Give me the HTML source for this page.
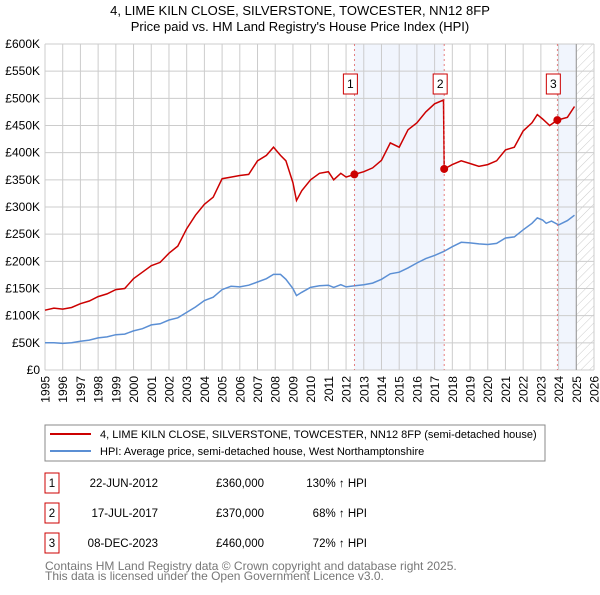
<!DOCTYPE html>
<html><head><meta charset="utf-8"><style>
body{margin:0;background:#fff}
svg{font-family:"Liberation Sans","DejaVu Sans",sans-serif}
</style></head><body>
<svg id="c" width="600" height="590" viewBox="0 0 600 590">
<defs><pattern id="hatch" patternUnits="userSpaceOnUse" width="6" height="6" patternTransform="rotate(45)"><line x1="0" y1="0" x2="0" y2="6" stroke="#ccc" stroke-width="1"/></pattern></defs>
<text x="300" y="15" text-anchor="middle" font-size="13">4, LIME KILN CLOSE, SILVERSTONE, TOWCESTER, NN12 8FP</text>
<text x="300" y="31" text-anchor="middle" font-size="13">Price paid vs. HM Land Registry's House Price Index (HPI)</text>
<g id="bg"></g><g id="grid"></g><g id="series"></g><g id="marks"></g>
<rect x="45" y="425" width="500" height="36" fill="#fff" stroke="#888"/>
<line x1="50" y1="434" x2="91" y2="434" stroke="#cc0000" stroke-width="2"/>
<text x="100" y="438" font-size="11">4, LIME KILN CLOSE, SILVERSTONE, TOWCESTER, NN12 8FP (semi-detached house)</text>
<line x1="50" y1="451" x2="91" y2="451" stroke="#5b8fd4" stroke-width="2"/>
<text x="100" y="455" font-size="11">HPI: Average price, semi-detached house, West Northamptonshire</text>
<g id="table" font-size="11.5"></g>
<text x="45" y="570" font-size="12" fill="#777">Contains HM Land Registry data © Crown copyright and database right 2025.</text>
<text x="45" y="580" font-size="12" fill="#777">This data is licensed under the Open Government Licence v3.0.</text>
</svg>
<script>
const yearTicks=[1995,1996,1997,1998,1999,2000,2001,2002,2003,2004,2005,2006,2007,2008,2009,2010,2011,2012,2013,2014,2015,2016,2017,2018,2019,2020,2021,2022,2023,2024,2025,2026];
const valueTicks=[0,50,100,150,200,250,300,350,400,450,500,550,600];
const valueLabels=["£0","£50K","£100K","£150K","£200K","£250K","£300K","£350K","£400K","£450K","£500K","£550K","£600K"];
const hpiYears=[1995,1995.5,1996,1996.5,1997,1997.5,1998,1998.5,1999,1999.5,2000,2000.5,2001,2001.5,2002,2002.5,2003,2003.5,2004,2004.5,2005,2005.5,2006,2006.5,2007,2007.5,2007.9,2008.3,2008.6,2009,2009.2,2009.5,2010,2010.5,2011,2011.3,2011.7,2012,2012.5,2013,2013.5,2014,2014.5,2015,2015.5,2016,2016.5,2017,2017.5,2018,2018.5,2019,2019.5,2020,2020.5,2021,2021.5,2022,2022.5,2022.8,2023.1,2023.3,2023.6,2024,2024.5,2024.9];
const hpiValues=[50,50,49,50,53,55,59,61,65,66,72,76,83,85,92,96,106,116,128,134,148,154,153,156,162,168,176,176,167,150,137,143,152,155,156,152,157,153,155,157,160,167,177,180,188,197,205,211,218,227,235,234,232,231,233,243,245,258,270,280,276,270,274,267,275,285];
const salesYears=[1995,1995.5,1996,1996.5,1997,1997.5,1998,1998.5,1999,1999.5,2000,2000.5,2001,2001.5,2002,2002.5,2003,2003.5,2004,2004.5,2005,2005.5,2006,2006.5,2007,2007.5,2007.9,2008.3,2008.6,2009,2009.2,2009.5,2010,2010.5,2011,2011.3,2011.7,2012,2012.47,2013,2013.5,2014,2014.5,2015,2015.5,2016,2016.5,2017,2017.5,2017.54,2018,2018.5,2019,2019.5,2020,2020.5,2021,2021.5,2022,2022.5,2022.8,2023.1,2023.5,2023.93,2024.5,2024.9];
const salesValues=[110,114,112,115,122,127,135,140,148,150,168,180,192,198,215,228,260,285,305,318,352,355,358,360,385,395,410,395,385,345,312,330,350,362,365,350,362,355,360,365,372,386,418,410,442,455,475,490,497,370,378,385,380,375,378,385,405,410,440,455,470,462,450,460,465,485];
const saleYears=[2012.47,2017.54,2023.93];
const salePrices=[360,370,460];
const saleDates=["22-JUN-2012","17-JUL-2017","08-DEC-2023"];
const salePriceLabels=["£360,000","£370,000","£460,000"];
const salePct=["130% ↑ HPI","68% ↑ HPI","72% ↑ HPI"];
const NS="http://www.w3.org/2000/svg";
const X0=45,X1=594,Y0=370,Y1=44;
const xs=y=>X0+(y-1995)/31*(X1-X0);
const ys=v=>Y0-v/600*(Y0-Y1);
function mk(p,t,a){const e=document.createElementNS(NS,t);for(const k in a)e.setAttribute(k,a[k]);p.appendChild(e);return e;}
const bg=document.getElementById('bg'),grid=document.getElementById('grid'),ser=document.getElementById('series'),marks=document.getElementById('marks'),tb=document.getElementById('table');
let r=mk(bg,'rect',{x:xs(saleYears[0]),y:Y1,width:xs(saleYears[1])-xs(saleYears[0]),height:Y0-Y1,fill:'#eef3fc',opacity:0.8});

r=mk(bg,'rect',{x:xs(saleYears[2]),y:Y1,width:xs(2025)-xs(saleYears[2]),height:Y0-Y1,fill:'#eef3fc',opacity:0.8});

r=mk(bg,'rect',{x:xs(2025),y:Y1,width:X1-xs(2025),height:Y0-Y1,fill:'url(#hatch)'});

valueTicks.forEach((v,i)=>{
 const l=mk(grid,'line',{x1:X0,x2:X1,y1:ys(v),y2:ys(v),stroke:'#ccc'});
 
 const t=mk(grid,'text',{x:40,y:ys(v)+4,'text-anchor':'end','font-size':12});t.textContent=valueLabels[i];
 
});
yearTicks.forEach(y=>{
 const l=mk(grid,'line',{x1:xs(y),x2:xs(y),y1:Y1,y2:Y0,stroke:'#ccc'});
 
 const tx=xs(y)+4.5,ty=376;
 const t=mk(grid,'text',{x:tx,y:ty,'text-anchor':'end','font-size':12,transform:'rotate(-90 '+tx+' '+ty+')'});t.textContent=y;
 
});
let l=mk(grid,'line',{x1:xs(2025),x2:xs(2025),y1:Y1,y2:Y0,stroke:'#999'});

const path=(xa,va)=>xa.map((x,i)=>(i?'L':'M')+xs(x).toFixed(1)+','+ys(va[i]).toFixed(1)).join('');
let p=mk(ser,'path',{d:path(hpiYears,hpiValues),fill:'none',stroke:'#5b8fd4','stroke-width':1.5});

p=mk(ser,'path',{d:path(salesYears,salesValues),fill:'none',stroke:'#cc0000','stroke-width':1.5});

saleYears.forEach((y,i)=>{
 const d=mk(marks,'line',{x1:xs(y),x2:xs(y),y1:Y1,y2:Y0,stroke:'#e06060','stroke-dasharray':'2,3','stroke-width':0.8});
 
 const c=mk(marks,'circle',{cx:xs(y),cy:ys(salePrices[i]),r:4,fill:'#cc0000'});
 
 const b=mk(marks,'rect',{x:xs(y)-11,y:74,width:14,height:20,fill:'#fff',stroke:'#cc0000'});
 
 const t=mk(marks,'text',{x:xs(y)-4,y:88,'text-anchor':'middle','font-size':12});t.textContent=i+1;
 
 const ry=473+i*30;
 const tb1=mk(tb,'rect',{x:45,y:ry,width:14,height:20,fill:'#fff',stroke:'#cc0000'});
 
 const cells=[[52,'middle',i+1],[158,'end',saleDates[i]],[264,'end',salePriceLabels[i]],[367,'end',salePct[i]]];
 cells.forEach(cc=>{const t2=mk(tb,'text',{x:cc[0],y:ry+14,'text-anchor':cc[1]});t2.textContent=cc[2];
  });
});
</script>
</body></html>
